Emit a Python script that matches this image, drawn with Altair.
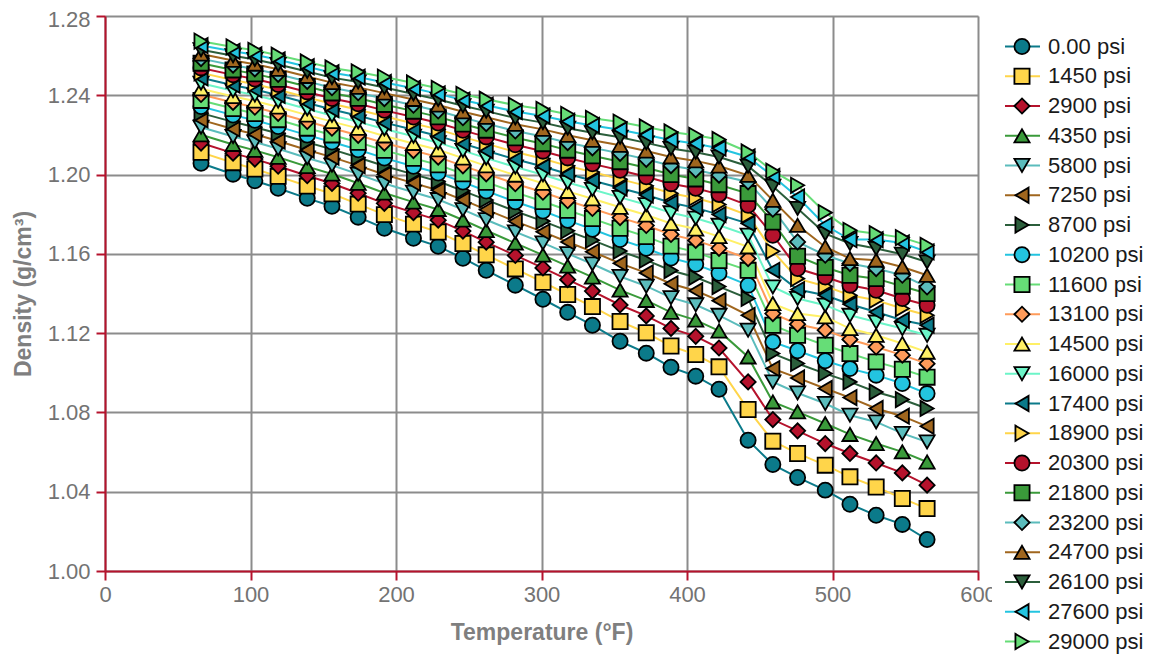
import altair as alt
import pandas as pd

# Temperatures (°F) of the measurement columns
temps_f = [66, 88, 103, 119, 139, 156, 174, 192, 212, 229, 246, 262, 282, 301, 318,
           335, 354, 372, 389, 406, 422, 442, 459, 476, 495, 512, 530, 548, 565]

pressure_labels = ["0.00 psi", "1450 psi", "2900 psi", "4350 psi", "5800 psi", "7250 psi",
                   "8700 psi", "10200 psi", "11600 psi", "13100 psi", "14500 psi", "16000 psi",
                   "17400 psi", "18900 psi", "20300 psi", "21800 psi", "23200 psi", "24700 psi",
                   "26100 psi", "27600 psi", "29000 psi"]

d_0 = [1.2057, 1.2002, 1.1969, 1.1931, 1.1880, 1.1840, 1.1785, 1.1729, 1.1679, 1.1638, 1.1578, 1.1517, 1.1442, 1.1371, 1.1305, 1.1240, 1.1159, 1.1099, 1.1028, 1.0983, 1.0917, 1.0660, 1.0537, 1.0472, 1.0408, 1.0337, 1.0281, 1.0235, 1.0159]
d_1450 = [1.2112, 1.2060, 1.2028, 1.1991, 1.1942, 1.1903, 1.1851, 1.1798, 1.1750, 1.1710, 1.1652, 1.1595, 1.1524, 1.1457, 1.1395, 1.1334, 1.1259, 1.1202, 1.1135, 1.1092, 1.1030, 1.0815, 1.0655, 1.0593, 1.0534, 1.0475, 1.0424, 1.0366, 1.0315]
d_2900 = [1.2159, 1.2108, 1.2078, 1.2042, 1.1994, 1.1955, 1.1906, 1.1855, 1.1808, 1.1770, 1.1715, 1.1659, 1.1592, 1.1529, 1.1470, 1.1412, 1.1342, 1.1287, 1.1224, 1.1184, 1.1125, 1.0954, 1.0764, 1.0707, 1.0643, 1.0593, 1.0545, 1.0495, 1.0433]
d_4350 = [1.2201, 1.2152, 1.2122, 1.2087, 1.2040, 1.2003, 1.1956, 1.1907, 1.1861, 1.1824, 1.1771, 1.1718, 1.1654, 1.1594, 1.1538, 1.1483, 1.1417, 1.1365, 1.1305, 1.1266, 1.1211, 1.1080, 1.0853, 1.0803, 1.0744, 1.0689, 1.0643, 1.0601, 1.0550]
d_5800 = [1.2239, 1.2192, 1.2164, 1.2130, 1.2084, 1.2047, 1.2002, 1.1955, 1.1911, 1.1874, 1.1823, 1.1772, 1.1711, 1.1655, 1.1601, 1.1549, 1.1486, 1.1437, 1.1379, 1.1343, 1.1290, 1.1215, 1.0954, 1.0898, 1.0845, 1.0786, 1.0752, 1.0694, 1.0651]
d_7250 = [1.2276, 1.2230, 1.2203, 1.2169, 1.2124, 1.2088, 1.2045, 1.2000, 1.1957, 1.1921, 1.1872, 1.1823, 1.1764, 1.1711, 1.1660, 1.1611, 1.1552, 1.1504, 1.1449, 1.1414, 1.1364, 1.1290, 1.1021, 1.0974, 1.0921, 1.0875, 1.0820, 1.0781, 1.0730]
d_8700 = [1.2310, 1.2266, 1.2239, 1.2207, 1.2163, 1.2127, 1.2086, 1.2043, 1.2001, 1.1966, 1.1918, 1.1872, 1.1815, 1.1765, 1.1716, 1.1669, 1.1614, 1.1568, 1.1516, 1.1482, 1.1435, 1.1375, 1.1097, 1.1047, 1.0996, 1.0954, 1.0903, 1.0865, 1.0820]
d_10200 = [1.2343, 1.2300, 1.2274, 1.2242, 1.2199, 1.2164, 1.2125, 1.2083, 1.2042, 1.2008, 1.1962, 1.1917, 1.1863, 1.1816, 1.1769, 1.1724, 1.1672, 1.1628, 1.1579, 1.1547, 1.1502, 1.1442, 1.1156, 1.1111, 1.1061, 1.1021, 1.0988, 1.0946, 1.0895]
d_11600 = [1.2374, 1.2333, 1.2308, 1.2277, 1.2234, 1.2200, 1.2163, 1.2122, 1.2082, 1.2049, 1.2004, 1.1961, 1.1910, 1.1864, 1.1820, 1.1778, 1.1729, 1.1687, 1.1639, 1.1609, 1.1566, 1.1517, 1.1240, 1.1189, 1.1139, 1.1097, 1.1055, 1.1018, 1.0978]
d_13100 = [1.2404, 1.2364, 1.2340, 1.2309, 1.2268, 1.2234, 1.2198, 1.2159, 1.2121, 1.2088, 1.2044, 1.2004, 1.1954, 1.1911, 1.1868, 1.1829, 1.1783, 1.1743, 1.1698, 1.1668, 1.1628, 1.1576, 1.1299, 1.1245, 1.1215, 1.1168, 1.1130, 1.1089, 1.1046]
d_14500 = [1.2433, 1.2394, 1.2371, 1.2341, 1.2300, 1.2267, 1.2233, 1.2195, 1.2157, 1.2125, 1.2083, 1.2044, 1.1997, 1.1956, 1.1915, 1.1878, 1.1835, 1.1796, 1.1753, 1.1725, 1.1687, 1.1635, 1.1349, 1.1299, 1.1282, 1.1223, 1.1189, 1.1148, 1.1104]
d_16000 = [1.2461, 1.2423, 1.2401, 1.2371, 1.2331, 1.2298, 1.2266, 1.2230, 1.2193, 1.2161, 1.2121, 1.2083, 1.2038, 1.1999, 1.1960, 1.1925, 1.1885, 1.1848, 1.1807, 1.1780, 1.1744, 1.1694, 1.1433, 1.1375, 1.1341, 1.1290, 1.1256, 1.1223, 1.1189]
d_17400 = [1.2488, 1.2451, 1.2429, 1.2400, 1.2361, 1.2328, 1.2297, 1.2262, 1.2226, 1.2195, 1.2156, 1.2120, 1.2077, 1.2041, 1.2003, 1.1970, 1.1932, 1.1897, 1.1858, 1.1832, 1.1798, 1.1753, 1.1517, 1.1420, 1.1391, 1.1346, 1.1307, 1.1265, 1.1240]
d_18900 = [1.2513, 1.2477, 1.2456, 1.2428, 1.2389, 1.2357, 1.2327, 1.2294, 1.2258, 1.2228, 1.2190, 1.2156, 1.2114, 1.2080, 1.2044, 1.2013, 1.1977, 1.1943, 1.1906, 1.1882, 1.1849, 1.1795, 1.1613, 1.1475, 1.1437, 1.1391, 1.1366, 1.1324, 1.1290]
d_20300 = [1.2538, 1.2503, 1.2482, 1.2454, 1.2417, 1.2384, 1.2357, 1.2324, 1.2290, 1.2260, 1.2223, 1.2190, 1.2150, 1.2118, 1.2084, 1.2054, 1.2022, 1.1989, 1.1954, 1.1931, 1.1900, 1.1845, 1.1694, 1.1526, 1.1483, 1.1442, 1.1416, 1.1375, 1.1341]
d_21800 = [1.2562, 1.2528, 1.2508, 1.2481, 1.2444, 1.2412, 1.2385, 1.2354, 1.2320, 1.2291, 1.2255, 1.2224, 1.2186, 1.2156, 1.2123, 1.2095, 1.2065, 1.2034, 1.2000, 1.1978, 1.1949, 1.1904, 1.1761, 1.1588, 1.1531, 1.1492, 1.1475, 1.1437, 1.1400]
d_23200 = [1.2585, 1.2552, 1.2533, 1.2506, 1.2470, 1.2438, 1.2413, 1.2383, 1.2350, 1.2321, 1.2287, 1.2257, 1.2220, 1.2192, 1.2161, 1.2135, 1.2107, 1.2077, 1.2045, 1.2024, 1.1997, 1.1963, 1.1825, 1.1660, 1.1593, 1.1551, 1.1526, 1.1492, 1.1433]
d_24700 = [1.2608, 1.2576, 1.2557, 1.2531, 1.2495, 1.2464, 1.2440, 1.2411, 1.2379, 1.2351, 1.2317, 1.2289, 1.2254, 1.2228, 1.2198, 1.2173, 1.2148, 1.2119, 1.2089, 1.2069, 1.2043, 1.1996, 1.1870, 1.1744, 1.1635, 1.1576, 1.1568, 1.1534, 1.1492]
d_26100 = [1.2630, 1.2599, 1.2581, 1.2555, 1.2520, 1.2489, 1.2467, 1.2439, 1.2407, 1.2379, 1.2347, 1.2320, 1.2286, 1.2262, 1.2234, 1.2211, 1.2188, 1.2160, 1.2132, 1.2113, 1.2089, 1.2042, 1.1941, 1.1829, 1.1702, 1.1652, 1.1627, 1.1598, 1.1559]
d_27600 = [1.2651, 1.2622, 1.2604, 1.2579, 1.2544, 1.2514, 1.2492, 1.2465, 1.2435, 1.2407, 1.2376, 1.2350, 1.2318, 1.2296, 1.2269, 1.2248, 1.2226, 1.2200, 1.2174, 1.2156, 1.2133, 1.2089, 1.1991, 1.1887, 1.1744, 1.1672, 1.1672, 1.1655, 1.1610]
d_29000 = [1.2673, 1.2644, 1.2627, 1.2602, 1.2568, 1.2538, 1.2518, 1.2492, 1.2462, 1.2435, 1.2405, 1.2380, 1.2350, 1.2329, 1.2304, 1.2284, 1.2265, 1.2240, 1.2215, 1.2198, 1.2177, 1.2114, 1.2017, 1.1946, 1.1808, 1.1719, 1.1702, 1.1682, 1.1643]

series_values = [d_0, d_1450, d_2900, d_4350, d_5800, d_7250, d_8700, d_10200, d_11600,
                 d_13100, d_14500, d_16000, d_17400, d_18900, d_20300, d_21800, d_23200,
                 d_24700, d_26100, d_27600, d_29000]

series_colors = ["#0b7a8a", "#ffd54a", "#b5122c", "#3a9a3a", "#5bbcbc", "#a0661e", "#2b5e3b",
                 "#23c4e0", "#66dd77", "#ff9b5a", "#fff066", "#6cf5c8", "#0b7a8a", "#ffd54a",
                 "#b5122c", "#3a9a3a", "#5bbcbc", "#a0661e", "#2b5e3b", "#23c4e0", "#66dd77"]

series_shapes = ["circle", "square", "diamond", "triangle-up", "triangle-down", "triangle-left",
                 "triangle-right"] * 3

x_ticks = [0, 100, 200, 300, 400, 500, 600]
y_ticks = [1.00, 1.02, 1.04, 1.06, 1.08, 1.10, 1.12, 1.14, 1.16, 1.18, 1.20, 1.22, 1.24, 1.26, 1.28]

rows = []
for name, vals in zip(pressure_labels, series_values):
    for i, (t, v) in enumerate(zip(temps_f, vals)):
        rows.append({"series": name, "temp": t, "density": v, "idx": i})
df = pd.DataFrame(rows)
legend_df = pd.DataFrame({"series": pressure_labels})

FONT = "Liberation Sans"
AXIS_RED = "#b5122c"
GRID = "#8c8c8c"
LABEL_GRAY = "#737373"
TITLE_GRAY = "#7f7f7f"

color_scale = alt.Scale(domain=pressure_labels, range=series_colors)
shape_scale = alt.Scale(domain=pressure_labels, range=series_shapes)

x_enc = alt.X("temp:Q", scale=alt.Scale(domain=[0, 600], nice=False, zero=False),
              axis=alt.Axis(values=x_ticks, title="Temperature (°F)", labelFlush=False,
                            labelFontSize=22, labelFont=FONT, labelColor=LABEL_GRAY,
                            labelPadding=4, tickSize=9, tickWidth=2, tickColor=AXIS_RED,
                            domainColor=AXIS_RED, domainWidth=2, grid=True, gridColor=GRID,
                            gridWidth=2, titleFontSize=23, titleFont=FONT, titleColor=TITLE_GRAY,
                            titleFontWeight="bold", titlePadding=16, zindex=0))
y_enc = alt.Y("density:Q", scale=alt.Scale(domain=[1.0, 1.28], nice=False, zero=False),
              axis=alt.Axis(values=y_ticks, format=".2f", title="Density (g/cm³)",
                            labelFontSize=22, labelFont=FONT, labelColor=LABEL_GRAY,
                            labelPadding=6,
                            labelOffset={"condition": {"test": "datum.value > 1.275", "value": 3},
                                         "value": 0},
                            tickSize=9, tickWidth=2, tickColor=AXIS_RED,
                            domainColor=AXIS_RED, domainWidth=2, grid=True, gridColor=GRID,
                            gridWidth=2, titleFontSize=23, titleFont=FONT, titleColor=TITLE_GRAY,
                            titleFontWeight="bold", titlePadding=12))

lines = alt.Chart(df).mark_line(strokeWidth=2).encode(
    x=x_enc, y=y_enc,
    color=alt.Color("series:N", scale=color_scale, legend=None),
    order="idx:Q",
)
points = alt.Chart(df).mark_point(filled=True, size=230, stroke="black", strokeWidth=1.8,
                                  opacity=1).encode(
    x="temp:Q", y="density:Q",
    fill=alt.Fill("series:N", scale=color_scale, legend=None),
    shape=alt.Shape("series:N", scale=shape_scale, legend=None),
)
main = alt.layer(lines, points)

leg_y = alt.Y("series:N", sort=pressure_labels,
              scale=alt.Scale(type="point", domain=pressure_labels, range=[30.5, 625.5], padding=0),
              axis=None)
cover = alt.Chart(alt.Data(values=[{"k": 1}])).mark_rect(color="white").encode(
    x=alt.value(887), x2=alt.value(1040), y=alt.value(12), y2=alt.value(640))
leg_rule = alt.Chart(legend_df).mark_rule(strokeWidth=2).encode(
    x=alt.value(900), x2=alt.value(935), y=leg_y,
    color=alt.Color("series:N", scale=color_scale, legend=None))
leg_sym = alt.Chart(legend_df).mark_point(filled=True, size=230, stroke="black",
                                          strokeWidth=1.8, opacity=1).encode(
    x=alt.value(917), y=leg_y,
    fill=alt.Fill("series:N", scale=color_scale, legend=None),
    shape=alt.Shape("series:N", scale=shape_scale, legend=None))
leg_text = alt.Chart(legend_df).mark_text(align="left", baseline="middle", fontSize=22,
                                          font=FONT, color="#1a1a1a").encode(
    x=alt.value(943), y=leg_y, text="series:N")
legend = alt.layer(cover, leg_rule, leg_sym, leg_text)

chart = alt.layer(main, legend).resolve_scale(y="independent").properties(
    width=873, height=555,
    autosize=alt.AutoSizeParams(type="none"),
    padding={"left": 97, "top": 8, "right": 170, "bottom": 84},
).configure_view(stroke=None).configure(background="white")

chart.save("out.html", embed_options={"renderer": "svg", "actions": False})
